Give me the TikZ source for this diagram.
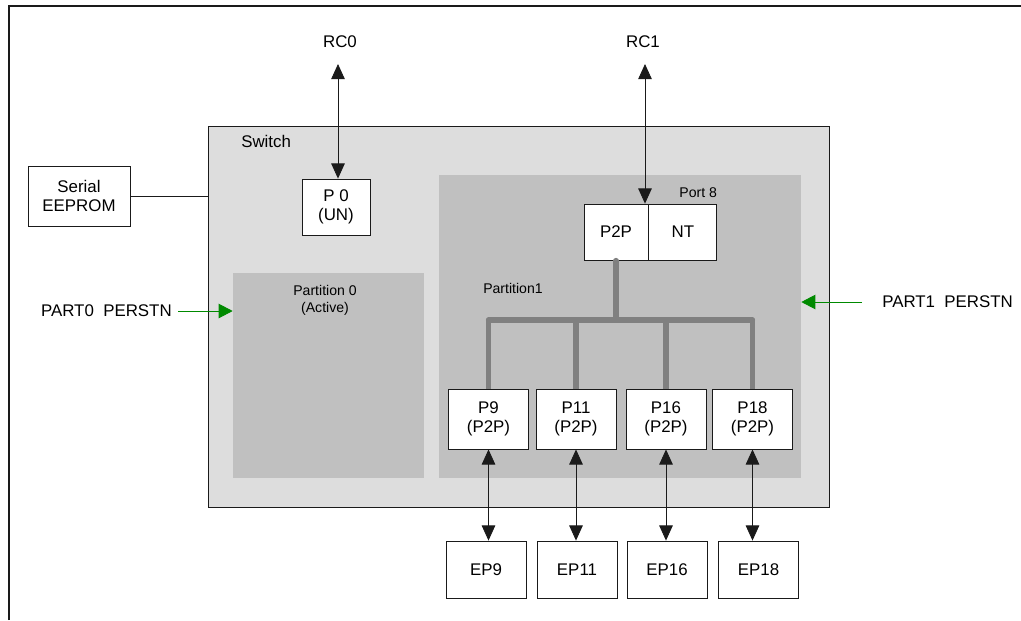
\documentclass[tikz,border=0pt]{standalone}
\usepackage{fontspec}
\setmainfont{Liberation Sans}
\usetikzlibrary{arrows.meta,positioning,calc}
\definecolor{ink}{HTML}{1A1A1A}
\definecolor{swgray}{HTML}{DDDDDD}
\definecolor{partgray}{HTML}{C0C0C0}
\definecolor{busgray}{HTML}{808080}
\definecolor{rstgreen}{HTML}{008A00}
\tikzset{
  box/.style={draw=ink,fill=white,line width=0.6pt,align=center,
              inner sep=2pt,font=\fontsize{12}{14}\selectfont},
  portbox/.style={box,minimum width=2cm,minimum height=1.5cm},
  epbox/.style={box,minimum width=2cm,minimum height=1.425cm},
  switchbox/.style={draw=ink,fill=swgray,line width=0.6pt,
                    minimum width=15.525cm,minimum height=9.525cm,inner sep=0pt},
  partbox/.style={fill=partgray,inner sep=0pt},
  lbl/.style={font=\fontsize{12}{14}\selectfont,inner sep=0pt},
  smalllbl/.style={font=\fontsize{10}{12}\selectfont,inner sep=0pt,align=center},
  linkarr/.style={{Triangle[length=3.8mm,width=3.4mm]}-{Triangle[length=3.8mm,width=3.4mm]},
                  line width=0.6pt,draw=ink},
  rstarr/.style={-{Triangle[length=3.5mm,width=3.6mm]},line width=0.6pt,
                 draw=rstgreen},
  bus/.style={line width=3.6pt,draw=busgray,line cap=round,line join=round}
}
\begin{document}
\begin{tikzpicture}[x=0.025cm,y=-0.025cm]
  \path[use as bounding box] (0,0) rectangle (1021,620);
  \draw[line width=1.4pt,draw=ink] (9,620) -- (9,6) -- (1021,6);

  % switch and its partitions
  \node[switchbox] (sw) at (518.5,316.5) {};
  \node[lbl,anchor=west] (swlbl) at (241,141) {Switch};
  \node[partbox,minimum width=4.775cm,minimum height=5.125cm] (part0) at (328.5,375.5) {};
  \node[partbox,minimum width=9.05cm,minimum height=7.575cm] (part1) at (620,326.5) {};
  \node[smalllbl] (part0lbl) at (325,300) {Partition 0\\(Active)};
  \node[smalllbl,anchor=west] (part1lbl) at (483,288) {Partition1};

  \node[box,minimum width=2.55cm,minimum height=1.5cm] (eeprom) at (79,196) {Serial\\EEPROM};
  \draw[line width=0.6pt,draw=ink] (eeprom.east) -- (eeprom.east -| sw.west);

  \node[box,minimum width=1.7cm,minimum height=1.4cm] (p0) at (336,207) {P 0\\(UN)};
  \node[box,minimum width=1.6cm,minimum height=1.4cm] (p2p) at (616,232) {P2P};
  \node[box,minimum width=1.7cm,minimum height=1.4cm,anchor=west] (nt) at (p2p.east) {NT};
  \node[smalllbl,anchor=south east] (port8) at ([yshift=1.5mm]nt.north east) {Port 8};

  % downstream ports and endpoints
  \coordinate (busy) at (0,320);
  \draw[bus] (p2p.south) -- (p2p.south |- busy);
  \foreach \n/\x/\e in {9/488.5/486,11/576/577,16/666/667,18/752.5/758.5}{
    \draw[bus] (\x,320) -- (\x,389);
    \node[portbox] (p\n) at (\x,419) {P\n\\(P2P)};
    \node[epbox] (ep\n) at (\e,569.5) {EP\n};
    \draw[linkarr] (p\n.south) -- (p\n.south |- ep\n.north);
  }
  \draw[bus] (p9.north |- busy) -- (p18.north |- busy);

  % root complexes
  \node[lbl] (rc0) at (340,42) {RC0};
  \coordinate (rc0end) at (338,64);
  \draw[linkarr] (rc0end) -- (rc0end |- p0.north);
  \node[lbl] (rc1) at (643,42) {RC1};
  \coordinate (rc1end) at (645,64);
  \draw[linkarr] (rc1end) -- (rc1end |- p2p.north);

  % partition resets
  \node[lbl,anchor=east] (rst0) at (172,311) {PART0\ \ PERSTN};
  \draw[rstarr] ([xshift=1.5mm]rst0.east) -- (rst0.east -| part0.west);
  \node[lbl,anchor=west] (rst1) at (882,302) {PART1\ \ PERSTN};
  \draw[rstarr] ([xshift=-5mm]rst1.west) -- (rst1.west -| part1.east);
\end{tikzpicture}
\end{document}
